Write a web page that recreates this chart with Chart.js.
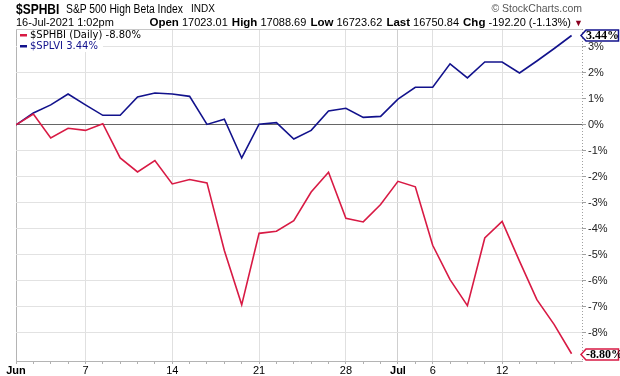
<!DOCTYPE html>
<html>
<head>
<meta charset="utf-8">
<script src="https://cdn.jsdelivr.net/npm/chart.js@4.4.1/dist/chart.umd.min.js"></script>
<style>
  body { margin: 0; background: #fff; }
  #wrap { position: relative; width: 620px; height: 376px; font-family: "Liberation Sans", Arial, sans-serif; color: #000; }
  #chart { position: absolute; left: 0; top: 0; }
  .hdr { position: absolute; white-space: nowrap; transform-origin: left top; }
  #sym { left: 16px; top: 0px; font-size: 15px; font-weight: bold; transform: scaleX(0.8); }
  #name { left: 66px; top: 2px; font-size: 12px; transform: scaleX(0.86); }
  #exch { left: 191px; top: 3px; font-size: 10px; }
  #copy { right: 38px; top: 2px; font-size: 10.5px; color: #555; }
  #stamp { left: 16px; top: 16px; font-size: 11px; }
  #quote { right: 37px; top: 16px; font-size: 11px; }
  #quote b { font-size: 11.5px; margin-left: 1px; }
  #quote b:first-child { margin-left: 0; }
  #quote .tri { color: #8b0020; font-size: 9px; }
</style>
</head>
<body>
<div id="wrap">
  <canvas id="chart" width="620" height="376"></canvas>
  <div class="hdr" id="sym">$SPHBI</div>
  <div class="hdr" id="name">S&amp;P 500 High Beta Index</div>
  <div class="hdr" id="exch">INDX</div>
  <div class="hdr" id="copy">© StockCharts.com</div>
  <div class="hdr" id="stamp">16-Jul-2021 1:02pm</div>
  <div class="hdr" id="quote"><b>Open</b> 17023.01 <b>High</b> 17088.69 <b>Low</b> 16723.62 <b>Last</b> 16750.84 <b>Chg</b> -192.20 (-1.13%) <span class="tri">▼</span></div>
</div>
<script>
// trading days, Jun 1 - Jul 16 2021
const days = ["Jun 1","Jun 2","Jun 3","Jun 4","Jun 7","Jun 8","Jun 9","Jun 10","Jun 11",
  "Jun 14","Jun 15","Jun 16","Jun 17","Jun 18","Jun 21","Jun 22","Jun 23","Jun 24","Jun 25",
  "Jun 28","Jun 29","Jun 30","Jul 1","Jul 2","Jul 6","Jul 7","Jul 8","Jul 9",
  "Jul 12","Jul 13","Jul 14","Jul 15","Jul 16"];

// % change since Jun 1
const sphbi = [0, 0.42, -0.50, -0.13, -0.21, 0.05, -1.27, -1.81, -1.37, -2.27, -2.10, -2.23,
  -4.83, -6.92, -4.17, -4.09, -3.68, -2.58, -1.82, -3.59, -3.73, -3.06, -2.17, -2.38,
  -4.63, -5.95, -6.95, -4.35, -3.71, -5.24, -6.72, -7.68, -8.80];
const splvi = [0, 0.46, 0.77, 1.19, 0.77, 0.37, 0.37, 1.08, 1.23, 1.19, 1.10, 0.02,
  0.22, -1.27, 0.03, 0.09, -0.54, -0.21, 0.54, 0.64, 0.29, 0.33, 0.99, 1.45,
  1.45, 2.35, 1.81, 2.42, 2.42, 2.00, 2.46, 2.94, 3.44];

const tickDates = ["Jun 1","Jun 7","Jun 14","Jun 21","Jun 28","Jul 1","Jul 6","Jul 12"];
const tickLabels = ["Jun","7","14","21","28","Jul","6","12"];
const yTicks = [3, 2, 1, 0, -1, -2, -3, -4, -5, -6, -7, -8];

const RED = "#d81a44";
const BLUE = "#12128c";

const tickIndex = tickDates.map(d => days.indexOf(d));

function labelFor(v) {
  const k = tickIndex.indexOf(v);
  return k >= 0 ? tickLabels[k] : "";
}

const overlay = {
  id: "overlay",
  afterDatasetsDraw(chart) {
    const ctx = chart.ctx;
    const a = chart.chartArea;
    const ys = chart.scales.y;
    ctx.save();
    // top frame
    ctx.strokeStyle = "#c8c8c8";
    ctx.lineWidth = 1;
    ctx.beginPath();
    ctx.moveTo(a.left, a.top + 0.5);
    ctx.lineTo(a.right, a.top + 0.5);
    ctx.stroke();
    // dotted right axis
    ctx.strokeStyle = "#a0a0a0";
    ctx.setLineDash([1, 2]);
    ctx.beginPath();
    ctx.moveTo(a.right + 0.5, a.top);
    ctx.lineTo(a.right + 0.5, a.bottom);
    ctx.stroke();
    ctx.setLineDash([]);

    // legend
    ctx.font = "10px 'DejaVu Sans'";
    ctx.textBaseline = "middle";
    const rows = [
      { text: "$SPHBI (Daily) -8.80%", color: RED, txt: "#000", y: 35 },
      { text: "$SPLVI 3.44%", color: BLUE, txt: BLUE, y: 46 }
    ];
    rows.forEach(r => {
      const w = ctx.measureText(r.text).width;
      ctx.fillStyle = "#fff";
      ctx.fillRect(a.left + 1, r.y - 5, w + 18, 11);
      ctx.fillStyle = r.color;
      ctx.fillRect(a.left + 4, r.y - 1, 7, 2.5);
      ctx.fillStyle = r.txt;
      ctx.fillText(r.text, a.left + 14, r.y);
    });

    // last value tags
    const tags = [
      { v: splvi[splvi.length - 1], color: BLUE },
      { v: sphbi[sphbi.length - 1], color: RED }
    ];
    tags.forEach(t => {
      const y = Math.round(ys.getPixelForValue(t.v)) + 0.5;
      ctx.beginPath();
      ctx.moveTo(581, y);
      ctx.lineTo(586, y - 5.5);
      ctx.lineTo(618.5, y - 5.5);
      ctx.lineTo(618.5, y + 5.5);
      ctx.lineTo(586, y + 5.5);
      ctx.closePath();
      ctx.fillStyle = "#fff";
      ctx.fill();
      ctx.strokeStyle = t.color;
      ctx.lineWidth = 1.5;
      ctx.stroke();
      ctx.fillStyle = "#000";
      ctx.font = "bold 12px 'Liberation Serif'";
      ctx.textAlign = "left";
      ctx.fillText(t.v.toFixed(2) + "%", 586, y + 0.5);
    });
    ctx.restore();
  }
};

new Chart("chart", {
  type: "line",
  data: {
    datasets: [
      {
        label: "$SPHBI (Daily)",
        data: sphbi.map((v, i) => ({ x: i, y: v })),
        borderColor: RED,
        borderWidth: 1.6,
        pointRadius: 0,
        tension: 0,
        fill: false
      },
      {
        label: "$SPLVI",
        data: splvi.map((v, i) => ({ x: i, y: v })),
        borderColor: BLUE,
        borderWidth: 1.6,
        pointRadius: 0,
        tension: 0,
        fill: false
      }
    ]
  },
  options: {
    responsive: false,
    animation: false,
    devicePixelRatio: 1,
    layout: { padding: { left: 16, top: 29, right: 0, bottom: 0 } },
    plugins: {
      legend: { display: false },
      tooltip: { enabled: false }
    },
    scales: {
      x: {
        type: "linear",
        min: 0,
        max: 32.6,
        afterBuildTicks: scale => {
          scale.ticks = days.map((d, i) => ({ value: i }));
        },
        afterFit: scale => { scale.height = 15; },
        border: { display: true, color: "#b4b4b4" },
        grid: {
          color: c => {
            if (!c.tick) return "transparent";
            if (c.tick.value === 0) return "#b4b4b4";
            if (c.tick.value === days.indexOf("Jul 1")) return "#cfcfcf";
            return labelFor(c.tick.value) ? "#e0e0e0" : "transparent";
          },
          tickColor: "#b0b0b0",
          tickLength: 3,
          drawTicks: true
        },
        ticks: {
          autoSkip: false,
          maxRotation: 0,
          padding: 0,
          color: "#000",
          callback: v => labelFor(v),
          font: c => ({
            family: "'Liberation Sans', Arial, sans-serif",
            size: 11,
            weight: (c.tick && (labelFor(c.tick.value) === "Jun" || labelFor(c.tick.value) === "Jul")) ? "bold" : "normal"
          })
        }
      },
      y: {
        position: "right",
        min: -9.08,
        max: 3.69,
        afterBuildTicks: scale => {
          scale.ticks = yTicks.map(v => ({ value: v }));
        },
        afterFit: scale => { scale.width = 38; },
        border: { display: false },
        grid: {
          color: c => (c.tick && c.tick.value === 0) ? "#666" : "#e2e2e2",
          tickColor: "#a0a0a0",
          tickLength: 4
        },
        ticks: {
          padding: 2,
          color: "#222",
          font: { family: "'Liberation Sans', Arial, sans-serif", size: 11 },
          callback: v => v + "%"
        }
      }
    }
  },
  plugins: [overlay]
});
</script>
</body>
</html>
